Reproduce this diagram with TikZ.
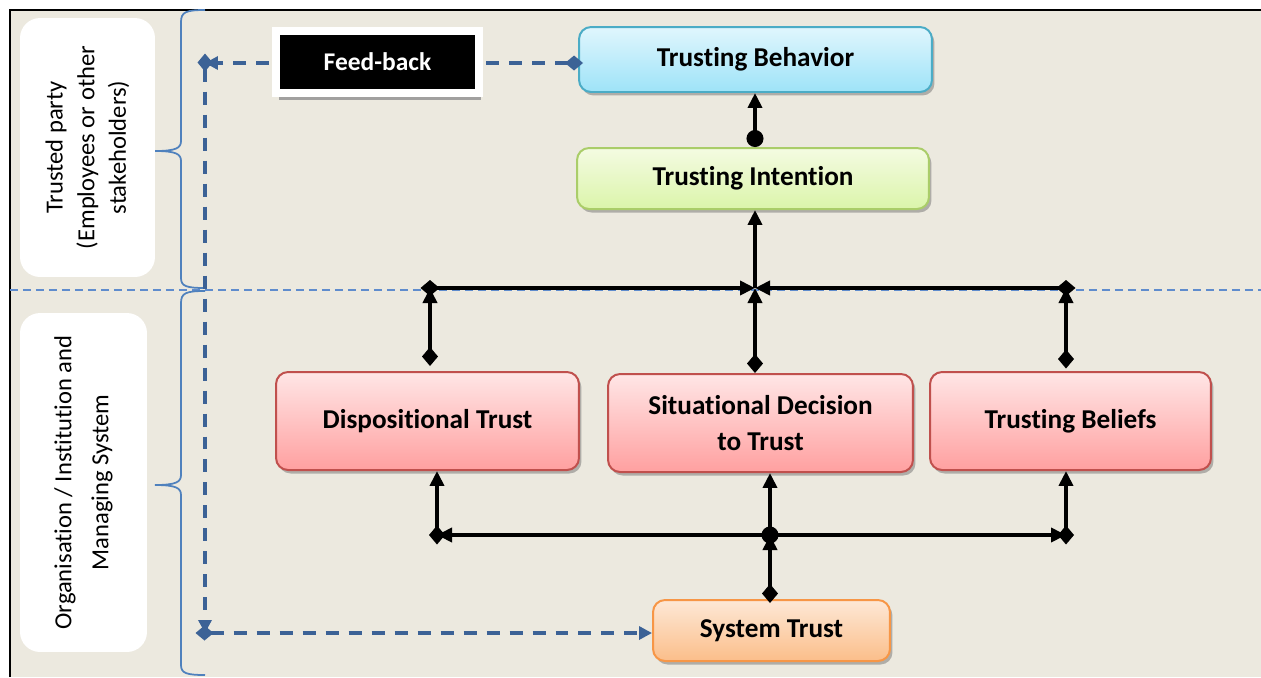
\documentclass[tikz,border=0pt]{standalone}
\usepackage{fontspec}
\setmainfont{Carlito}[Ligatures=NoCommon]
\usetikzlibrary{arrows.meta,shadows}

\definecolor{paper}{RGB}{236,233,223}
\definecolor{brcol}{RGB}{79,129,189}
\definecolor{sepcol}{RGB}{95,140,205}
\definecolor{fbblue}{RGB}{60,98,150}
\definecolor{cyanline}{RGB}{75,172,198}
\definecolor{cyantop}{RGB}{224,246,253}
\definecolor{cyanbot}{RGB}{158,227,248}
\definecolor{greenline}{RGB}{170,205,105}
\definecolor{greentop}{RGB}{244,251,226}
\definecolor{greenbot}{RGB}{219,245,170}
\definecolor{redline}{RGB}{192,80,77}
\definecolor{redtop}{RGB}{255,230,230}
\definecolor{redbot}{RGB}{255,160,160}
\definecolor{orline}{RGB}{247,150,70}
\definecolor{ortop}{RGB}{253,232,214}
\definecolor{orbot}{RGB}{251,190,138}

\begin{document}
\begin{tikzpicture}[x=0.02cm,y=-0.02cm,
  >={Triangle[length=0.3cm,width=0.28cm]},
  dia/.tip={Diamond[length=0.38cm,width=0.32cm]},
  blob/.tip={Circle[length=0.34cm]},
  box/.style={draw,line width=0.04cm,rounded corners=0.24cm,align=center,inner sep=2pt,
    font=\fontsize{15.5}{21}\selectfont\bfseries,
    drop shadow={shadow xshift=0.05cm,shadow yshift=-0.07cm,opacity=0.45,fill=black!60}},
  side/.style={fill=white,rounded corners=0.4cm,rotate=90,align=center},
  con/.style={line width=0.075cm},
  mid/.style={shorten <=-0.19cm},
  fbk/.style={draw=fbblue,line width=0.075cm,dash pattern=on 0.26cm off 0.2cm,
    >={Triangle[length=0.26cm,width=0.26cm]},dia/.tip={Diamond[length=0.36cm,width=0.3cm]}},
  brc/.style={draw=brcol,line width=0.035cm}]

% page and frame
\useasboundingbox (0,0) rectangle (1261,677);
\fill[white] (0,0) rectangle (1261,677);
\fill[paper] (10,10) rectangle (1261,677);
\draw[line width=0.04cm] (10,677) -- (10,10) -- (1261,10);
\draw[sepcol,line width=0.03cm,dash pattern=on 0.16cm off 0.1cm] (10,290) -- (1261,290);

% braces
\draw[brc] (205,10) .. controls (186,10) and (181,12) .. (181,22) -- (181,141)
  .. controls (181,148) and (176,151) .. (155,151);
\draw[brc] (155,151) .. controls (176,151) and (181,154) .. (181,161) -- (181,278)
  .. controls (181,286) and (186,288) .. (205,288);
\draw[brc] (205,291) .. controls (186,291) and (181,293) .. (181,303) -- (181,475)
  .. controls (181,482) and (176,485) .. (155,485);
\draw[brc] (155,485) .. controls (176,485) and (181,488) .. (181,495) -- (181,665)
  .. controls (181,673) and (186,675) .. (205,675);

% side labels
\node[side,minimum width=5.18cm,minimum height=2.7cm,font=\fontsize{14}{18}\selectfont] (party) at (87.5,147.5)
  {Trusted party\\(Employees or other\\stakeholders)};
\node[side,minimum width=6.78cm,minimum height=2.54cm,font=\fontsize{14}{21}\selectfont] (org) at (83.5,482.5)
  {Organisation / Institution and\\Managing System};

% boxes
\node[box,draw=cyanline,top color=cyantop,bottom color=cyanbot,minimum width=7.06cm,minimum height=1.3cm] (behav) at (755.5,59.5) {Trusting Behavior};
\node[box,draw=greenline,top color=greentop,bottom color=greenbot,minimum width=7.04cm,minimum height=1.22cm] (intent) at (753,178.5) {Trusting Intention};
\node[box,draw=redline,top color=redtop,bottom color=redbot,minimum width=6.06cm,minimum height=1.96cm] (dispo) at (427.5,421) {Dispositional Trust};
\node[box,draw=redline,top color=redtop,bottom color=redbot,minimum width=6.1cm,minimum height=1.96cm] (situ) at (760.5,423) {Situational Decision\\to Trust};
\node[box,draw=redline,top color=redtop,bottom color=redbot,minimum width=5.62cm,minimum height=1.96cm] (belief) at (1070.5,421) {Trusting Beliefs};
\node[box,draw=orline,top color=ortop,bottom color=orbot,minimum width=4.74cm,minimum height=1.22cm] (sys) at (771.5,630.5) {System Trust};

\coordinate (jtop) at (755,288);
\coordinate (jl) at (430,288);
\coordinate (jr) at (1066,288);
\coordinate (jbot) at (770,535);
\coordinate (jbl) at (437,535);
\coordinate (jbr) at (1066,535);
\coordinate (fbc) at (205,63);
\coordinate (fbd) at (205,633);

% feedback loop
\draw[fbk,dia->,shorten <=-0.1cm] (fbc -| behav.west) -- (fbc);
\draw[fbk,dia->,mid] (fbc) -- (fbd);
\draw[fbk,dia->,mid] (fbd) -- (fbd -| sys.west);
\node[fill=black,draw=white,line width=0.16cm,minimum width=4.06cm,minimum height=1.24cm,text=white,
  font=\fontsize{14.5}{17}\selectfont\bfseries,
  drop shadow={shadow xshift=0.05cm,shadow yshift=-0.14cm,opacity=0.9,fill=black!40}] (fb) at (377.5,62) {Feed-back};

% upper links
\draw[con,blob->] (jtop |- intent.north) -- (jtop |- behav.south);
\draw[con,->] (jtop) -- (jtop |- intent.south);
\draw[con,dia->,mid] (jl) -- (jtop);
\draw[con,dia->,mid] (jr) -- (jtop);
\draw[con,dia->,shorten <=0.1cm] (jl |- dispo.north) -- (jl);
\draw[con,dia->] (jtop |- situ.north) -- (jtop);
\draw[con,dia->,shorten <=0.05cm] (jr |- belief.north) -- (jr);

% lower links
\draw[con,dia->,shorten <=-0.08cm] (jbot |- sys.north) -- (jbot);
\draw[con,->] (jbot) -- (jbl);
\draw[con,->] (jbot) -- (jbr);
\draw[con,dia->,mid] (jbl) -- (jbl |- dispo.south);
\draw[con,dia->,mid] (jbr) -- (jbr |- belief.south);
\draw[con,blob->,shorten <=-0.17cm] (jbot) -- (jbot |- situ.south);
\end{tikzpicture}
\end{document}
